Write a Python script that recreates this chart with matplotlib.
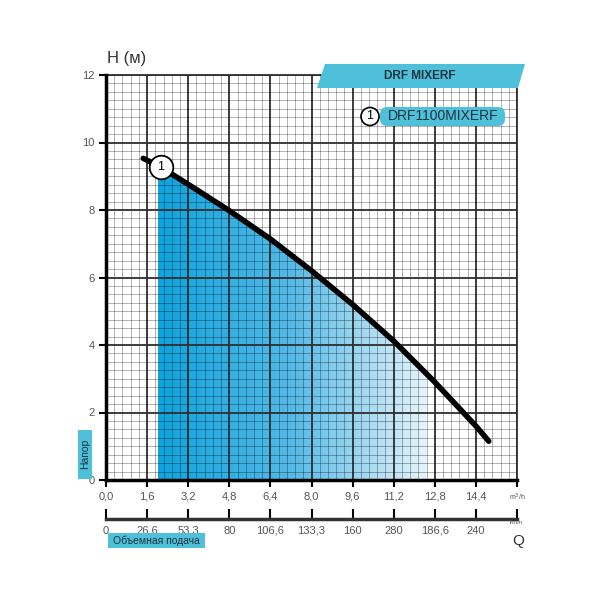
import numpy as np
import matplotlib
matplotlib.use("Agg")
import matplotlib.pyplot as plt
from matplotlib.patches import Polygon, Circle, FancyBboxPatch
from matplotlib.colors import LinearSegmentedColormap

plt.rcParams['font.family'] = ['Liberation Sans', 'DejaVu Sans']

# pump curve DRF1100MIXERF
flow_q = [1.45, 2.13, 3.2, 4.8, 6.4, 8.0, 9.6, 11.2, 12.8, 14.4, 14.9]
head_h = [9.53, 9.27, 8.76, 7.98, 7.14, 6.2, 5.2, 4.12, 2.9, 1.6, 1.15]

work_range = [2.04, 12.48]   # shaded working zone (m3/h)
marker_q, marker_h = 2.13, 9.27

m3h_ticks = [0, 1.6, 3.2, 4.8, 6.4, 8.0, 9.6, 11.2, 12.8, 14.4, 16.0]
m3h_labels = ['0,0', '1,6', '3,2', '4,8', '6,4', '8,0', '9,6', '11,2', '12,8', '14,4', '']
lmin_labels = ['0', '26,6', '53,3', '80', '106,6', '133,3', '160', '280', '186,6', '240', '']
h_ticks = [0, 2, 4, 6, 8, 10, 12]

series_name = 'DRF1100MIXERF'
family_name = 'DRF MIXERF'

CYAN = '#4fc0d9'
DARK = '#1d3340'
W = H = 600.0


def fx(px):
    return px / W


def fy(py):
    return 1 - py / H


fig = plt.figure(figsize=(6, 6), dpi=100)
ax = fig.add_axes([fx(106), fy(480), fx(517) - fx(106), fy(75) - fy(480)])
ax.set_xlim(0, 16)
ax.set_ylim(0, 12)

# gradient fill under curve, clipped by the curve
poly = ax.fill_between(flow_q, head_h, 0, color='none', lw=0)
cmap = LinearSegmentedColormap.from_list('pump', ['#0fa3dd', '#55bae8', '#e6f4fb'])
grad = np.linspace(0, 1, 256).reshape(1, -1)
img = ax.imshow(grad, cmap=cmap, aspect='auto', extent=[work_range[0], work_range[1], 0, 11],
                origin='lower', zorder=1)
img.set_clip_path(poly.get_paths()[0], transform=ax.transData)

# grid
for x in np.arange(0, 16.01, 0.32):
    major = abs(x / 1.6 - round(x / 1.6)) < 1e-6
    if major:
        ax.axvline(x, color='#2e2e2e', lw=1.3, zorder=2)
    else:
        ax.axvline(x, color='black', alpha=0.35, lw=0.6, zorder=2)
for y in np.arange(0, 12.01, 0.25):
    major = abs(y / 2 - round(y / 2)) < 1e-6
    if major:
        ax.axhline(y, color='#2e2e2e', lw=1.3, zorder=2)
    else:
        ax.axhline(y, color='black', alpha=0.35, lw=0.6, zorder=2)

ax.plot(flow_q, head_h, color='black', lw=4, solid_capstyle='round',
        solid_joinstyle='round', zorder=4)
ax.plot([marker_q], [marker_h], 'o', ms=17, mfc='white', mec='black', mew=1.3, zorder=5)
ax.text(marker_q, marker_h, '1', ha='center', va='center', fontsize=9, zorder=6)

for s in ['left', 'bottom']:
    ax.spines[s].set_linewidth(2.5)
    ax.spines[s].set_zorder(5)
for s in ['top', 'right']:
    ax.spines[s].set_linewidth(1.3)
    ax.spines[s].set_color('#2e2e2e')

ax.set_yticks(h_ticks)
ax.set_xticks(m3h_ticks)
ax.set_xticklabels(m3h_labels)
ax.tick_params(axis='both', length=5, width=1.5, labelsize=8, labelcolor='#555555', pad=3)

# second flow axis (l/min)
ax2 = fig.add_axes([fx(106), fy(519), fx(517) - fx(106), 0.001])
ax2.set_xlim(0, 16)
ax2.set_yticks([])
for s in ['left', 'top', 'right']:
    ax2.spines[s].set_visible(False)
ax2.spines['bottom'].set_linewidth(2.5)
ax2.spines['bottom'].set_color('#333333')
ax2.set_xticks(m3h_ticks)
ax2.set_xticklabels(lmin_labels)
ax2.tick_params(axis='x', direction='in', length=7, width=1.5, labelsize=8,
                labelcolor='#555555', pad=5)
ax2.patch.set_alpha(0)

# labels
fig.text(fx(107), fy(58), 'H (м)', fontsize=12, color='#333333', va='center')
fig.text(fx(509), fy(497), 'm$^3$/h', fontsize=5, color='#555555', va='center')
fig.text(fx(510), fy(523), 'l/min', fontsize=4.5, color='#555555', va='center')
fig.text(fx(512), fy(541), 'Q', fontsize=11, color='#333333', va='center')

fig.patches.append(FancyBboxPatch((fx(78), fy(479)), fx(14), fy(430) - fy(479),
                                  boxstyle='square,pad=0', fc=CYAN, ec='none',
                                  transform=fig.transFigure))
fig.text(fx(85), fy(454), 'Напор', rotation=90, fontsize=7.5, color=DARK, ha='center', va='center')
fig.patches.append(FancyBboxPatch((fx(108), fy(548)), fx(97), fy(533) - fy(548),
                                  boxstyle='square,pad=0', fc=CYAN, ec='none',
                                  transform=fig.transFigure))
fig.text(fx(156), fy(540.5), 'Объемная подача', fontsize=7.5, color=DARK, ha='center', va='center')

# banner
fig.patches.append(Polygon([(fx(317), fy(88)), (fx(325), fy(64)), (fx(525), fy(64)),
                            (fx(518), fy(88))], closed=True, fc=CYAN, ec='none',
                           transform=fig.transFigure, zorder=3))
fig.text(fx(420), fy(76), family_name, fontsize=8.5, fontweight='bold', color=DARK,
         ha='center', va='center', zorder=4)

# legend
fig.patches.append(FancyBboxPatch((fx(380), fy(126)), fx(125), fy(107) - fy(126),
                                  boxstyle='round,pad=0,rounding_size=0.012', fc=CYAN, ec='none',
                                  transform=fig.transFigure, zorder=3))
fig.patches.append(Circle((fx(370), fy(116.5)), fx(9), fc='white', ec='black', lw=1.2,
                          transform=fig.transFigure, zorder=4))
fig.text(fx(370), fy(116.5), '1', fontsize=9, ha='center', va='center', zorder=5)
fig.text(fx(443), fy(116.5), series_name, fontsize=10, color=DARK, ha='center', va='center',
         zorder=5)

fig.savefig('out.png', dpi=100)
